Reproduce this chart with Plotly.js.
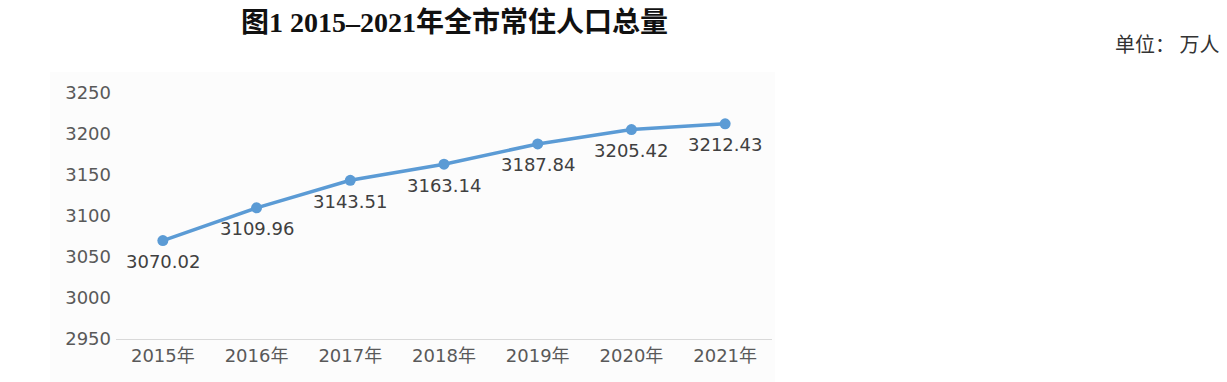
<!DOCTYPE html>
<html>
<head>
<meta charset="utf-8">
<script src="https://cdn.plot.ly/plotly-3.0.1.min.js"></script>
<style>html,body{margin:0;padding:0;background:#fff;}#chart{width:1227px;height:382px;}</style>
</head>
<body>
<div id="chart"></div>
<script>
const categories = ["2015年","2016年","2017年","2018年","2019年","2020年","2021年"];
const population = [3070.02, 3109.96, 3143.51, 3163.14, 3187.84, 3205.42, 3212.43];
const yTicks = [2950, 3000, 3050, 3100, 3150, 3200, 3250];
const titleText = "图1 2015–2021年全市常住人口总量";
const unitText = "单位： 万人";

const trace = {
  x: categories,
  y: population,
  type: "scatter",
  mode: "lines+markers",
  line: {color: "#5b9bd5", width: 3.5},
  marker: {color: "#5b9bd5", size: 11},
  cliponaxis: false,
  hoverinfo: "none"
};

const labelAnnotations = categories.map((c, i) => ({
  x: c, y: population[i], xref: "x", yref: "y",
  text: population[i].toFixed(2),
  showarrow: false, xanchor: "center", yanchor: "middle", yshift: -21,
  font: {family: "DejaVu Sans, sans-serif", size: 18, color: "#404040"}
}));

const layout = {
  width: 1227, height: 382,
  margin: {l: 116, r: 455, t: 93, b: 43},
  paper_bgcolor: "#ffffff",
  plot_bgcolor: "rgba(0,0,0,0)",
  showlegend: false,
  xaxis: {
    type: "category",
    range: [-0.5, 6.5],
    showgrid: false, zeroline: false,
    showline: true, linecolor: "#d9d9d9", linewidth: 1,
    ticks: "",
    tickfont: {family: "DejaVu Sans, Noto Sans CJK SC, sans-serif", size: 18, color: "#595959"}
  },
  yaxis: {
    range: [2950, 3250],
    tickvals: yTicks,
    ticktext: yTicks.map(String),
    showgrid: false, zeroline: false, showline: false,
    ticks: "",
    ticklabelstandoff: 4,
    tickfont: {family: "DejaVu Sans, sans-serif", size: 18, color: "#595959"}
  },
  shapes: [{
    type: "rect", xref: "paper", yref: "paper", layer: "below",
    x0: -66/656, x1: (775 - 116)/656, y0: -43/246, y1: 1 + 21/246,
    fillcolor: "#fcfcfc", line: {width: 0}
  }],
  annotations: labelAnnotations.concat([
    {text: "<b>" + titleText + "</b>", xref: "paper", yref: "paper",
     x: (454 - 116) / 656, y: 1 + (93 - 22) / 246, xanchor: "center", yanchor: "middle",
     showarrow: false,
     font: {family: "Liberation Serif, Noto Sans CJK SC, serif", size: 28, color: "#111111"}},
    {text: unitText, xref: "paper", yref: "paper",
     x: (1221 - 116) / 656, y: 1 + (93 - 44) / 246, xanchor: "right", yanchor: "middle",
     showarrow: false,
     font: {family: "Noto Sans CJK SC, sans-serif", size: 20, color: "#333333"}}
  ])
};

Plotly.newPlot("chart", [trace], layout, {staticPlot: true, displayModeBar: false});
</script>
</body>
</html>
